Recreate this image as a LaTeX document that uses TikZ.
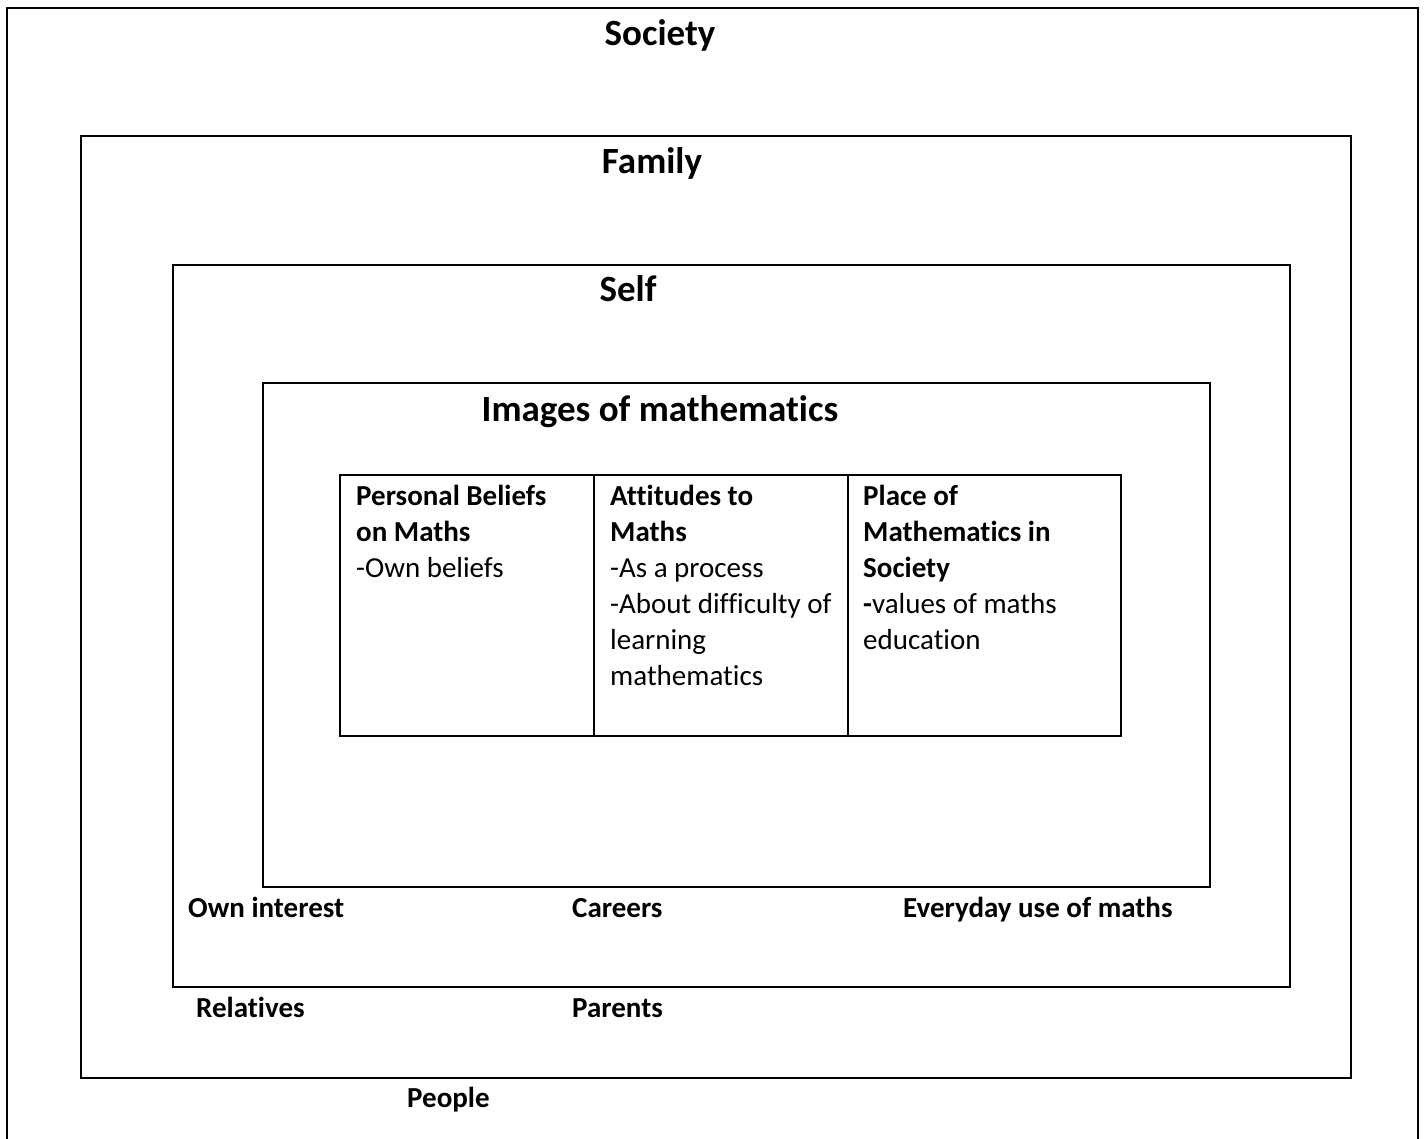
\documentclass[tikz,border=0pt]{standalone}
\usepackage{fontspec}
\setmainfont[Ligatures={NoCommon}]{Carlito}
\begin{document}
\begin{tikzpicture}[x=1pt,y=-1pt,
  boxline/.style={line width=1.6pt},
  cellline/.style={line width=1.1pt},
  title/.style={font=\fontsize{37}{45}\selectfont\bfseries, inner sep=0pt, anchor=base},
  lbl/.style={font=\fontsize{29}{36}\selectfont\bfseries, inner sep=0pt, anchor=base west},
  cell/.style={font=\fontsize{29}{36}\selectfont, inner sep=0pt, anchor=base west, text width=240pt, align=flush left}]
\useasboundingbox (0,0) rectangle (1426,1139);
% boxes
\draw[line width=2pt] (7,1139) -- (7,8) -- (1418,8) -- (1418,1139);
\draw[boxline] (81,136) rectangle (1351,1078);
\draw[boxline] (173,265) rectangle (1290,987);
\draw[boxline] (263,383) rectangle (1210,887);
\draw[cellline] (340,475) rectangle (1121,736);
\draw[cellline] (594,475) -- (594,736);
\draw[cellline] (848,475) -- (848,736);
% titles
\node[title] (society) at (660,46) {Society};
\node[title] (family) at (652,174) {Family};
\node[title] (self) at (628,302) {Self};
\node[title] (images) at (660,421) {Images of mathematics};
% cells
\node[cell] (c1) at (356,505) {\textbf{Personal Beliefs}\\ \textbf{on Maths}\\ -Own beliefs};
\node[cell] (c2) at (610,505) {\textbf{Attitudes to}\\ \textbf{Maths}\\ -As a process\\ -About difficulty of\\ learning\\ mathematics};
\node[cell] (c3) at (863,505) {\textbf{Place of}\\ \textbf{Mathematics in}\\ \textbf{Society}\\ \textbf{-}values of maths\\ education};
% labels
\node[lbl] (own) at (188,917) {Own interest};
\node[lbl] (careers) at (572,917) {Careers};
\node[lbl] (everyday) at (903,917) {Everyday use of maths};
\node[lbl] (relatives) at (196,1017) {Relatives};
\node[lbl] (parents) at (572,1017) {Parents};
\node[lbl] (people) at (407,1107) {People};
\end{tikzpicture}
\end{document}
